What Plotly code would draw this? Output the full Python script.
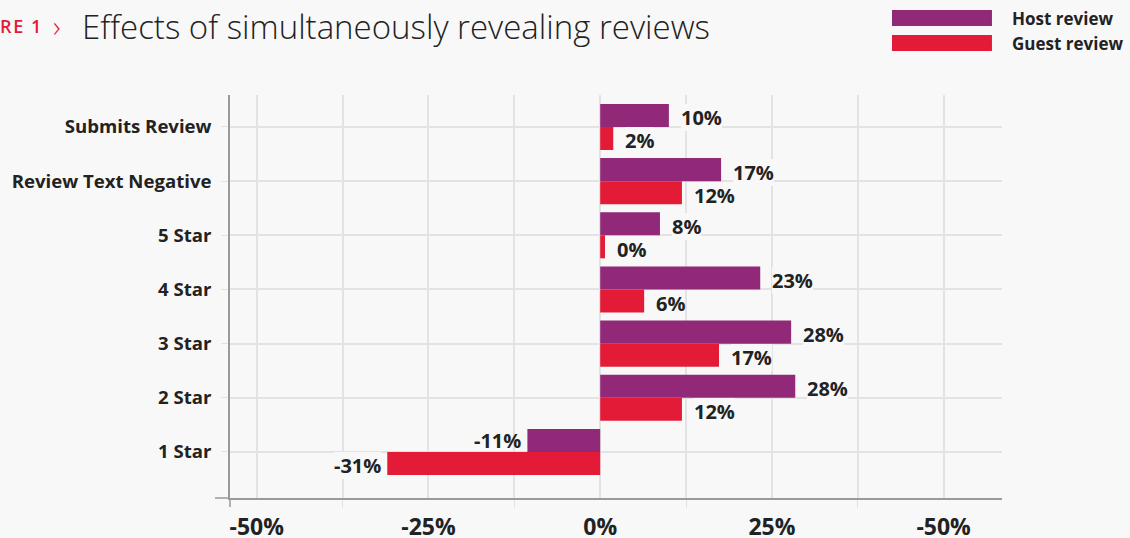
import plotly.graph_objects as go

categories = ["Submits Review", "Review Text Negative", "5 Star", "4 Star", "3 Star", "2 Star", "1 Star"]
host_values = [10.0, 17.6, 8.7, 23.3, 27.8, 28.4, -10.6]
guest_values = [1.9, 11.9, 0.7, 6.4, 17.3, 11.9, -31.0]
host_labels = ["10%", "17%", "8%", "23%", "28%", "28%", "-11%"]
guest_labels = ["2%", "12%", "0%", "6%", "17%", "12%", "-31%"]
tick_vals = [-50, -25, 0, 25, 50]
tick_text = ["-50%", "-25%", "0%", "25%", "-50%"]

HOST = "#922878"
GUEST = "#e31b37"
BG = "#f8f8f8"
GRID = "#e3e3e3"
TXT = "#222222"
FONT = "Open Sans"

fig = go.Figure()
fig.add_trace(go.Bar(y=categories, x=host_values, orientation="h", name="Host review",
                     marker=dict(color=HOST, line=dict(width=0)), hoverinfo="skip"))
fig.add_trace(go.Bar(y=categories, x=guest_values, orientation="h", name="Guest review",
                     marker=dict(color=GUEST, line=dict(width=0)), hoverinfo="skip"))

annotations = []
for vals, labs, ysh, is_host in ((host_values, host_labels, 9, True),
                                 (guest_values, guest_labels, -14, False)):
    for c, v, t in zip(categories, vals, labs):
        pos = v >= 0
        annotations.append(dict(
            x=v, y=c, xref="x", yref="y", text=t, showarrow=False,
            xanchor="left" if pos else "right", yanchor="middle",
            xshift=12 if pos else -6, yshift=ysh if pos else (11 if is_host else -14),
            bgcolor=BG if (pos or not is_host) else "rgba(0,0,0,0)",
            borderpad=0, borderwidth=0,
            font=dict(family=FONT, size=20, color=TXT, weight="bold")))

# figure label (as visible at the page edge)
annotations.append(dict(x=-0.2992, y=1.17, xref="paper", yref="paper",
                        text="R\u200aE\u2009 1",
                        showarrow=False, xanchor="left", yanchor="middle", borderpad=0,
                        font=dict(family=FONT, size=18, color=GUEST, weight=600)))
annotations.append(dict(x=-0.2241, y=1.172, xref="paper", yref="paper", text="›",
                        showarrow=False, xanchor="center", yanchor="middle",
                        font=dict(family=FONT, size=30, color=GUEST, weight=300)))

# legend
leg = [("Host review", HOST, 1.211, 1.171), ("Guest review", GUEST, 1.149, 1.109)]
shapes = []
for name, col, y1, y0 in leg:
    shapes.append(dict(type="rect", xref="paper", yref="paper", x0=0.8575, x1=0.987,
                       y0=y0, y1=y1, fillcolor=col, line=dict(width=0)))
    annotations.append(dict(x=1.0104, y=(y0 + y1) / 2, xref="paper", yref="paper", text=name,
                            showarrow=False, xanchor="left", yanchor="middle",
                            font=dict(family=FONT, size=17, color=TXT, weight="bold")))

# axis line extensions at the corner
shapes.append(dict(type="line", xref="paper", yref="paper", xsizemode="pixel", xanchor=0,
                   x0=-15, x1=0, y0=0, y1=0, line=dict(color="#9a9a9a", width=1.5)))
shapes.append(dict(type="line", xref="paper", yref="paper", ysizemode="pixel", yanchor=0,
                   x0=0, x1=0, y0=-9, y1=0, line=dict(color="#9a9a9a", width=1.5)))

fig.update_layout(
    width=1130, height=538,
    margin=dict(l=230, r=128, t=95, b=40, autoexpand=False),
    paper_bgcolor=BG, plot_bgcolor=BG,
    barmode="group", bargap=0.15, bargroupgap=0,
    showlegend=False,
    title=dict(text="Effects of simultaneously revealing reviews", x=82 / 1130, xanchor="left",
               xref="container", y=1 - 27 / 538, yanchor="middle", yref="container",
               font=dict(family=FONT, size=33, color=TXT, weight=300)),
    annotations=annotations,
    shapes=shapes,
    xaxis=dict(range=[-53.9, 58.5], tickvals=tick_vals, ticktext=tick_text, automargin=False,
               showgrid=True, gridcolor=GRID, gridwidth=1.5, zeroline=False,
               showline=True, linecolor="#9a9a9a", linewidth=1.5,
               ticks="", ticklabelstandoff=8,
               tickfont=dict(family=FONT, size=23, color=TXT, weight="bold"),
               minor=dict(tick0=-37.5, dtick=25, showgrid=True, gridcolor=GRID, gridwidth=1.5,
                          ticks="outside", ticklen=8, tickcolor=GRID)),
    yaxis=dict(categoryorder="array", categoryarray=categories, range=[6.85, -0.59],
               automargin=False,
               showgrid=True, gridcolor=GRID, gridwidth=1.5, zeroline=False,
               showline=True, linecolor="#9a9a9a", linewidth=1.5,
               ticks="outside", ticklen=7, tickcolor=GRID, ticklabelstandoff=6,
               tickfont=dict(family=FONT, size=18.6, color=TXT, weight="bold")),
)

fig.write_html("out.html", config={"displayModeBar": False},
               post_script="document.body.style.margin='0';document.body.style.background='#f8f8f8';")
